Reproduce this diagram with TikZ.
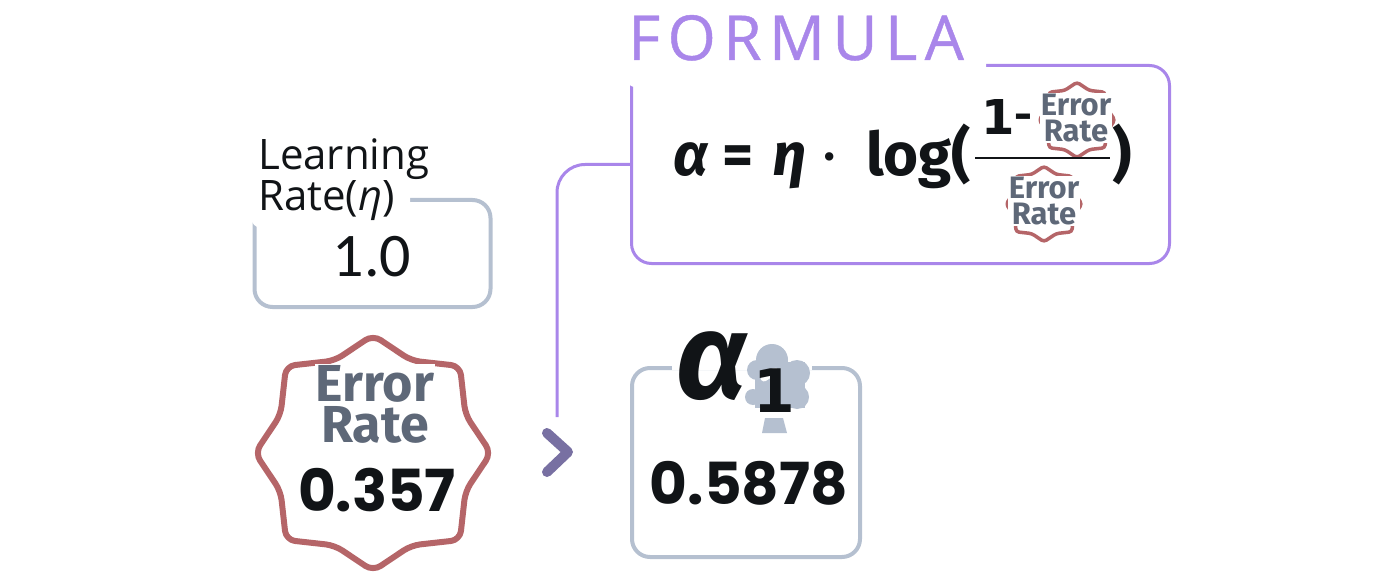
\documentclass[tikz,border=0pt]{standalone}
\usepackage{fontspec}
\setmainfont{Fira Sans}
\newfontfamily\labelfont{Open Sans}
\newfontfamily\digitfont{Poppins}
\newfontfamily\onefont{DejaVu Sans}
\newfontfamily\plainonefont{Carlito}
\usetikzlibrary{positioning}

\definecolor{boxgray}{HTML}{B5C0D0}
\definecolor{formulapurple}{HTML}{A986EA}
\definecolor{badgered}{HTML}{B56568}
\definecolor{inkdark}{HTML}{111417}
\definecolor{inkgray}{HTML}{5E6878}
\definecolor{chevronpurple}{HTML}{7870A2}

\tikzset{
    valuebox/.style={draw=boxgray, line width=4pt, rounded corners=18pt, fill=white, inner sep=0pt},
    formulabox/.style={draw=formulapurple, line width=3pt, rounded corners=20pt, fill=white, inner sep=0pt},
    maskbox/.style={fill=white, rounded corners=14pt, inner sep=0pt},
    link/.style={draw=formulapurple, line width=3pt, rounded corners=28pt},
    plaintext/.style={text=inkdark, inner sep=0pt, anchor=base},
    boldtext/.style={plaintext, font=\bfseries},
    errtext/.style={text=inkgray, fill=white, inner sep=1pt, align=center},
}

\newcommand{\fsize}[2]{\fontsize{#1}{#2}\selectfont}

% Eight pointed badge around (#1,#2), #3 is its scale
\newcommand{\badge}[4]{
    \draw[draw=badgered, line width=#4, line join=round, rounded corners=#3*9pt, shift={(#1,#2)}, scale=#3]
        (0:118) \foreach \ang/\rad in {22.5/100,45/123,67.5/100,90/118,112.5/100,135/123,157.5/100,
        180/118,202.5/100,225/123,247.5/100,270/118,292.5/100,315/123,337.5/100}{ -- (\ang:\rad) } -- cycle;
}

\begin{document}
\begin{tikzpicture}[x=1pt, y=-1pt]
    \useasboundingbox (0,0) rectangle (1400,572);

    % Learning rate
    \node[valuebox, minimum width=236pt, minimum height=107pt] (ratebox) at (372.5,253.5) {};
    \node[maskbox, minimum width=188pt, minimum height=66pt] (ratemaskA) at (344,163) {};
    \node[maskbox, minimum width=160pt, minimum height=62pt] (ratemaskB) at (330,198) {};
    \node[plaintext, anchor=west, align=left, font=\labelfont\fsize{42}{40}] (ratename) at (258,180) {Learning\\Rate(\textit{η})};
    \node[plaintext, font=\plainonefont\fsize{62}{62}] (rateval) at (372,276) {1.0};

    % Error rate
    \badge{373}{453}{1}{6pt}
    \node[errtext, font=\bfseries\fsize{52}{41}] (errname) at (375,404) {Error\\Rate};
    \node[boldtext, font=\digitfont\bfseries\fsize{58}{58}] (errval) at (377,511) {0.357};

    % Formula
    \node[formulabox, minimum width=538pt, minimum height=198pt] (formula) at (900.5,164.5) {};
    \node[maskbox, minimum width=366pt, minimum height=92pt, rounded corners=20pt] (formulamask) at (803,42) {};
    \node[plaintext, anchor=base west, text=formulapurple, font=\labelfont\fsize{62}{62}\addfontfeature{LetterSpace=12,FakeBold=0.7}] (formulatitle) at (628,60) {FORMULA};
    \node[boldtext, font=\bfseries\fsize{60}{60}] (lhs) at (691,176) {\textit{α}};
    \node[boldtext, font=\bfseries\fsize{60}{60}] (eqsign) at (738,176) {=};
    \node[boldtext, font=\bfseries\fsize{60}{60}] (etasym) at (790,176) {\textit{η}};
    \node[boldtext, font=\fsize{60}{60}] (dotsym) at (830,176) {·};
    \node[boldtext, anchor=base west, font=\bfseries\fsize{60}{60}] (logname) at (866,176) {log(};
    \node[boldtext, font=\onefont\bfseries\fsize{48}{48}] (numone) at (998,135) {1};
    \node[boldtext, font=\bfseries\fsize{44}{44}] (numdash) at (1023,131) {-};
    \badge{1077}{120}{0.32}{3.5pt}
    \node[errtext, font=\bfseries\fsize{31}{26}] (numerr) at (1076,118) {Error\\Rate};
    \coordinate (fracleft) at (975,158);
    \coordinate (fracright) at (1110,158);
    \draw[inkdark, line width=2.5pt] (fracleft) -- (fracright);
    \badge{1044}{204}{0.32}{3.5pt}
    \node[errtext, font=\bfseries\fsize{31}{26}] (denerr) at (1044,201) {Error\\Rate};
    \node[boldtext, font=\bfseries\fsize{60}{60}] (closeparen) at (1122,176) {)};

    % Link to result
    \coordinate (linkend) at (557,417);
    \draw[link] (formula.west) -| (linkend);
    \coordinate (chevtop) at (547,433);
    \coordinate (chevtip) at (568,452);
    \coordinate (chevbot) at (547,472);
    \draw[chevronpurple, line width=10pt, line cap=round, line join=round] (chevtop) -- (chevtip) -- (chevbot);

    % Alpha result
    \node[valuebox, minimum width=228pt, minimum height=189pt] (alphabox) at (746,462.5) {};
    \node[fill=white, inner sep=0pt, minimum width=140pt, minimum height=50pt] (alphamask) at (742,345) {};
    \fill[boxgray] (772,360) circle (16) (797,373) circle (13) (797,397) circle (12) (757,370) circle (10) (753,397) circle (8);
    \fill[boxgray] (755,362) rectangle (805,408);
    \fill[boxgray] (765,418) -- (783,418) -- (787,433) -- (762,433) -- cycle;
    \draw[white, line width=7pt, line cap=round, line join=round] (764,378) -- (775,371) -- (775,408) (763,409) -- (787,409);
    \node[boldtext, font=\bfseries\itshape\fsize{122}{122}] (alphasym) at (712,398) {α};
    \node[boldtext, font=\onefont\bfseries\fsize{60}{60}] (alphasub) at (774,412) {1};
    \node[boldtext, font=\digitfont\bfseries\fsize{58}{58}] (alphaval) at (749,504) {0.5878};
\end{tikzpicture}
\end{document}
